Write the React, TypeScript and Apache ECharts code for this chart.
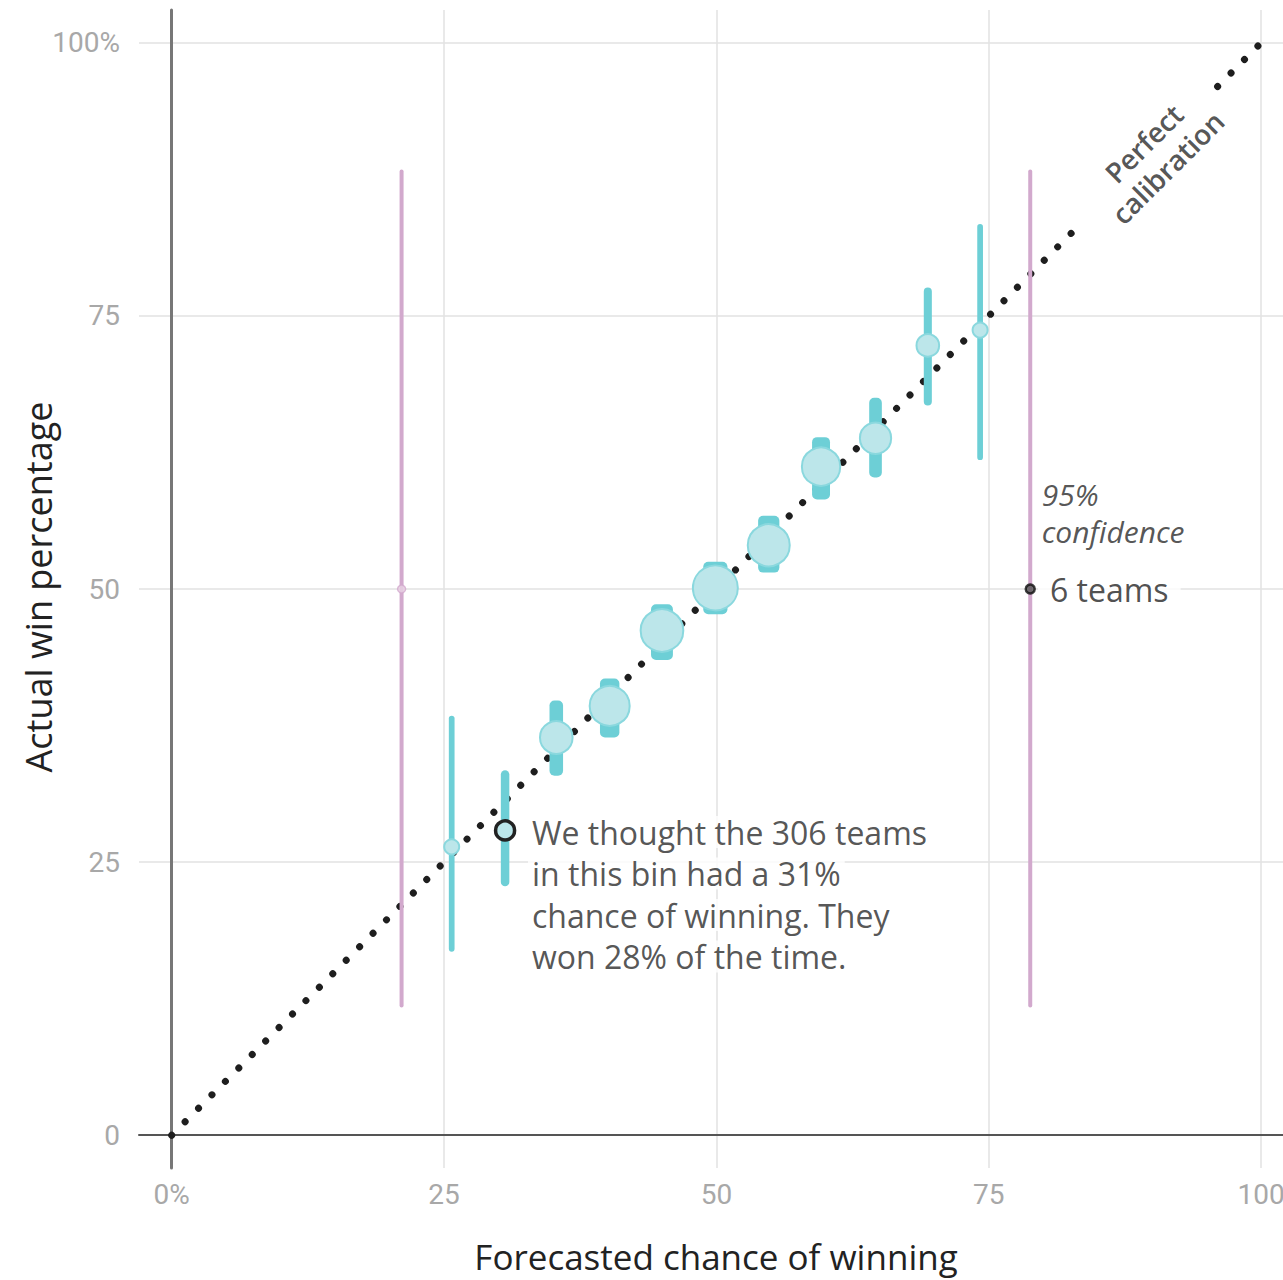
import React, { useEffect, useRef } from "react";
import * as echarts from "echarts";

// ---- Data ----
const forecast = [25.7, 30.6, 35.3, 40.2, 45.0, 49.9, 54.8, 59.6, 64.6, 69.4, 74.2];
const actual = [26.4, 27.9, 36.4, 39.3, 46.2, 50.1, 54.0, 61.2, 63.8, 72.3, 73.7];
const ciLow = [16.8, 22.8, 32.9, 36.4, 43.5, 47.7, 51.5, 58.2, 60.2, 66.8, 61.8];
const ciHigh = [38.4, 33.4, 39.8, 41.8, 48.6, 52.5, 56.7, 63.9, 67.5, 77.6, 83.4];
const teams = [63, 306, 744, 1253, 1468, 1667, 1412, 1125, 664, 266, 63];
const highlightIndex = 1;

const smallForecast = [21.1, 78.8];
const smallActual = [50, 50];
const smallLow = [11.7, 11.7];
const smallHigh = [88.4, 88.4];
const smallTeams = [6, 6];
const smallHighlightIndex = 1;

const calibrationStart = [0, 83.5];
const calibrationEnd = [96, 100];

const xTicks = [0, 25, 50, 75, 100];
const yTicks = [0, 25, 50, 75, 100];
const xTickLabels = ["0%", "25", "50", "75", "100"];
const yTickLabels = ["0", "25", "50", "75", "100%"];

const xTitle = "Forecasted chance of winning";
const yTitle = "Actual win percentage";
const annotationLines = [
  "We thought the 306 teams",
  "in this bin had a 31%",
  "chance of winning. They",
  "won 28% of the time.",
];
const confidenceText = "95%\nconfidence";
const calibrationText = "Perfect\ncalibration";
const smallLabel = "6 teams";

// ---- Styles ----
const TEAL = "#6dcfd6";
const TEAL_FILL = "#bce6ea";
const TEAL_BORDER = "#8ad8de";
const PURPLE = "#d2a9cd";
const TEXT_FONT = "'Open Sans', 'Noto Sans', sans-serif";
const TICK_FONT = "Roboto, sans-serif";

export default function App() {
  const ref = useRef<HTMLDivElement>(null);
  useEffect(() => {
    if (!ref.current) return;
    const chart = echarts.init(ref.current, null, { renderer: "svg" });

    const barRender = (color: string, widthFn: (n: number) => number) =>
      (params: any, api: any) => {
        const x = api.value(0);
        const p1 = api.coord([x, api.value(2)]);
        const p2 = api.coord([x, api.value(1)]);
        const w = widthFn(api.value(3));
        return {
          type: "rect",
          shape: { x: p1[0] - w / 2, y: p1[1], width: w, height: p2[1] - p1[1], r: Math.min(w / 2, 5) },
          style: { fill: color },
        };
      };

    const tickLabel = {
      color: "#a8a8a8",
      fontSize: 28,
      fontFamily: TICK_FONT,
    };

    const option: any = {
      animation: false,
      grid: { left: 139, right: 0, top: 10, bottom: 112, containLabel: false, outerBoundsMode: "none" },
      graphic: [
        {
          type: "text",
          x: 716,
          y: 1256,
          style: {
            text: xTitle,
            align: "center",
            verticalAlign: "middle",
            fontSize: 35,
            fill: "#222",
            fontFamily: TEXT_FONT,
          },
        },
        {
          type: "text",
          x: 38,
          y: 587,
          rotation: Math.PI / 2,
          style: {
            text: yTitle,
            align: "center",
            verticalAlign: "middle",
            fontSize: 36,
            fill: "#222",
            fontFamily: TEXT_FONT,
          },
        },
      ],
      xAxis: {
        type: "value",
        min: -3,
        max: 102,
        axisLine: { onZero: true, lineStyle: { color: "#555", width: 2 } },
        axisTick: { show: false, customValues: xTicks },
        axisLabel: {
          customValues: xTicks,
          formatter: (v: number) => xTickLabels[xTicks.indexOf(v)] ?? "",
          margin: 12,
          ...tickLabel,
        },
        splitLine: { show: true, lineStyle: { color: "#e2e2e2", width: 1.5 } },
      },
      yAxis: {
        type: "value",
        min: -3,
        max: 103,
        axisLine: { onZero: true, lineStyle: { color: "#777", width: 3 } },
        axisTick: { show: false, customValues: yTicks },
        axisLabel: {
          customValues: yTicks,
          formatter: (v: number) => yTickLabels[yTicks.indexOf(v)] ?? "",
          margin: 19,
          ...tickLabel,
        },
        splitLine: { show: true, lineStyle: { color: "#e2e2e2", width: 1.5 } },
      },
      series: [
        // perfect calibration dotted line (two segments around the label)
        {
          type: "line",
          data: [[calibrationStart[0], calibrationStart[0]], [calibrationStart[1], calibrationStart[1]]],
          symbol: "none",
          silent: true,
          z: 2,
          lineStyle: { color: "#1e1e1e", width: 7, type: [0.01, 19], cap: "round" },
        },
        {
          type: "line",
          data: [[calibrationEnd[0], calibrationEnd[0]], [calibrationEnd[1], calibrationEnd[1]]],
          symbol: "none",
          silent: true,
          z: 2,
          lineStyle: { color: "#1e1e1e", width: 7, type: [0.01, 19], cap: "round" },
        },
        // small bins' confidence bars
        {
          type: "custom",
          z: 3,
          data: smallForecast.map((x, i) => [x, smallLow[i], smallHigh[i], smallTeams[i]]),
          encode: { x: 0, y: [1, 2] },
          renderItem: barRender(PURPLE, () => 4),
        },
        // teal confidence bars
        {
          type: "custom",
          z: 3,
          data: forecast.map((x, i) => [x, ciLow[i], ciHigh[i], teams[i]]),
          encode: { x: 0, y: [1, 2] },
          itemStyle: { opacity: 0.92 },
          renderItem: barRender(TEAL, (n) => 5 + n * 0.0115),
        },
        // teal bin circles
        {
          type: "scatter",
          z: 4,
          symbolSize: (v: number[]) => 7.8 + 0.91 * Math.sqrt(v[2]),
          itemStyle: { color: TEAL_FILL, borderColor: TEAL_BORDER, borderWidth: 2, opacity: 1 },
          data: forecast.map((x, i) =>
            i === highlightIndex
              ? { value: [x, actual[i], teams[i]], symbolSize: 19, itemStyle: { color: TEAL_FILL, borderColor: "#222", borderWidth: 3.5 } }
              : { value: [x, actual[i], teams[i]] }
          ),
        },
        // small bins' dots
        {
          type: "scatter",
          z: 4,
          symbolSize: 8,
          itemStyle: { color: "#e8d2e4", borderColor: PURPLE, borderWidth: 1.5 },
          data: smallForecast.map((x, i) =>
            i === smallHighlightIndex
              ? {
                  value: [x, smallActual[i]],
                  symbolSize: 9,
                  itemStyle: { color: "#555", borderColor: "#111", borderWidth: 2.5 },
                  label: {
                    show: true,
                    position: "right",
                    distance: 2,
                    formatter: smallLabel,
                    backgroundColor: "#fff",
                    padding: [4, 12],
                    color: "#222",
                    fontSize: 32,
                    fontFamily: TEXT_FONT,
                  },
                }
              : { value: [x, smallActual[i]] }
          ),
        },
        // text annotations
        {
          type: "scatter",
          z: 5,
          silent: true,
          symbolSize: 1,
          itemStyle: { color: "rgba(0,0,0,0)" },
          data: [
            {
              value: [32.75, 29.6],
              label: {
                show: true,
                position: [0, 0],
                formatter: annotationLines.map((l) => `{l|${l}}`).join("\n"),
                rich: {
                  l: {
                    backgroundColor: "#fff",
                    padding: [0, 4],
                    fontSize: 32,
                    lineHeight: 41.5,
                    color: "#2a2a2a",
                    fontFamily: TEXT_FONT,
                  },
                },
              },
            },
            {
              value: [79.9, 60.3],
              label: {
                show: true,
                position: [0, 0],
                formatter: confidenceText,
                fontStyle: "italic",
                fontSize: 30,
                lineHeight: 37,
                color: "#2a2a2a",
                fontFamily: TEXT_FONT,
              },
            },
            {
              value: [90.3, 89.7],
              label: {
                show: true,
                position: "inside",
                rotate: 45,
                align: "center",
                verticalAlign: "middle",
                formatter: calibrationText,
                fontSize: 28,
                lineHeight: 34,
                fontWeight: 600,
                color: "#2a2a2a",
                fontFamily: TEXT_FONT,
              },
            },
          ],
        },
      ],
    };
    chart.setOption(option);
    return () => chart.dispose();
  }, []);

  return (
    <div
      ref={ref}
      style={{ position: "fixed", left: 0, top: 0, width: 1283, height: 1280, background: "#fff" }}
    />
  );
}
